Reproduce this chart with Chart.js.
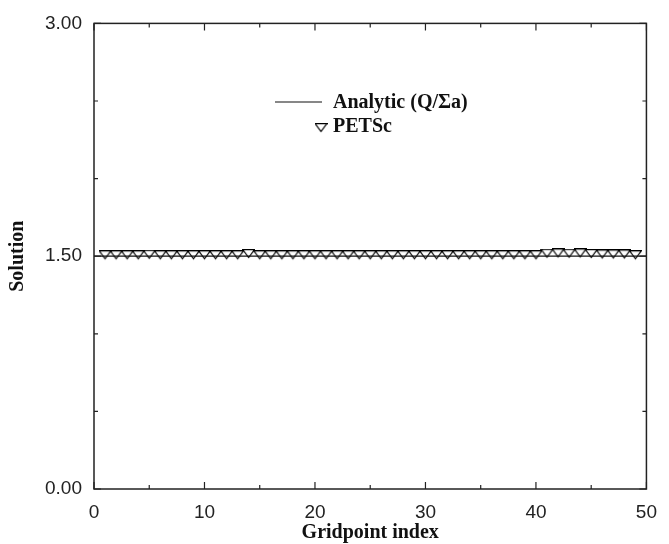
<!DOCTYPE html>
<html>
<head>
<meta charset="utf-8">
<script src="https://cdn.jsdelivr.net/npm/chart.js@4"></script>
<style>
  body { margin: 0; background: #fff; }
  #caixa { width: 669px; height: 544px; }
</style>
</head>
<body>
<div id="caixa"><canvas id="grafico" width="669" height="544"></canvas></div>
<script>
// dados
var gridpoints = [1, 2, 3, 4, 5, 6, 7, 8, 9, 10, 11, 12, 13, 14, 15, 16, 17, 18, 19, 20,
    21, 22, 23, 24, 25, 26, 27, 28, 29, 30, 31, 32, 33, 34, 35, 36, 37, 38, 39, 40,
    41, 42, 43, 44, 45, 46, 47, 48, 49];
var valoresPetsc = [1.5, 1.5, 1.5, 1.5, 1.503, 1.5, 1.5, 1.5, 1.5, 1.5, 1.5, 1.5, 1.5, 1.508, 1.5, 1.5, 1.5, 1.5, 1.5, 1.5,
    1.5, 1.5, 1.5, 1.5, 1.5, 1.5, 1.5, 1.5, 1.5, 1.5, 1.5, 1.5, 1.5, 1.5, 1.5, 1.5, 1.5, 1.5, 1.5, 1.5,
    1.51, 1.512, 1.51, 1.512, 1.508, 1.505, 1.505, 1.505, 1.5];
var analiticoX = [0, 50];
var analiticoY = [1.5, 1.5];

var xTicks = [0, 10, 20, 30, 40, 50];
var xMinor = [5, 15, 25, 35, 45];
var yTicks = [0, 1.5, 3];
var yMinor = [0.5, 1, 2, 2.5];

var fonteNumeros = "'Liberation Sans', Arial, sans-serif";
var fonteTitulo = "'Liberation Serif', 'Times New Roman', serif";

// marcador: triangulo para baixo, vazado (ancorado um pouco abaixo do centro)
function criarTriangulo() {
    var c = document.createElement('canvas');
    c.width = 13;
    c.height = 12;
    var g = c.getContext('2d');
    g.strokeStyle = '#000';
    g.lineWidth = 1.2;
    g.beginPath();
    g.moveTo(0.6, 0.6);
    g.lineTo(12.4, 0.6);
    g.lineTo(6.5, 8.6);
    g.closePath();
    g.stroke();
    return c;
}
var triangulo = criarTriangulo();

// moldura com marcas para dentro nos quatro lados
var moldura = {
    id: 'moldura',
    afterDatasetsDraw(chart) {
        var ctx = chart.ctx;
        var area = chart.chartArea;
        var sx = chart.scales.x;
        var sy = chart.scales.y;
        ctx.save();
        ctx.strokeStyle = '#222';
        ctx.lineWidth = 1.5;
        ctx.strokeRect(area.left, area.top, area.right - area.left, area.bottom - area.top);
        ctx.lineWidth = 1.2;
        ctx.beginPath();
        function marcaX(v, len) {
            var px = sx.getPixelForValue(v);
            ctx.moveTo(px, area.bottom);
            ctx.lineTo(px, area.bottom - len);
            ctx.moveTo(px, area.top);
            ctx.lineTo(px, area.top + len);
        }
        function marcaY(v, len) {
            var py = sy.getPixelForValue(v);
            ctx.moveTo(area.left, py);
            ctx.lineTo(area.left + len, py);
            ctx.moveTo(area.right, py);
            ctx.lineTo(area.right - len, py);
        }
        xTicks.forEach(function (v) { marcaX(v, 7); });
        xMinor.forEach(function (v) { marcaX(v, 4); });
        yTicks.forEach(function (v) { marcaY(v, 7); });
        yMinor.forEach(function (v) { marcaY(v, 4); });
        ctx.stroke();
        ctx.restore();
    },
    afterDraw(chart) {
        // legenda desenhada dentro do grafico
        var ctx = chart.ctx;
        ctx.save();
        ctx.strokeStyle = '#111';
        ctx.lineWidth = 1.2;
        ctx.beginPath();
        ctx.moveTo(275, 102);
        ctx.lineTo(322, 102);
        ctx.stroke();
        ctx.drawImage(triangulo, 321 - 6.5, 129 - 6);
        ctx.fillStyle = '#111';
        ctx.font = 'bold 20px ' + fonteTitulo;
        ctx.textBaseline = 'middle';
        ctx.textAlign = 'left';
        ctx.fillText('Analytic (Q/\u03A3a)', 333, 103);
        ctx.fillText('PETSc', 333, 127);
        ctx.restore();
    }
};

var pontosPetsc = gridpoints.map(function (x, i) { return { x: x, y: valoresPetsc[i] }; });
var pontosAnalitico = analiticoX.map(function (x, i) { return { x: x, y: analiticoY[i] }; });

new Chart(document.getElementById('grafico'), {
    type: 'scatter',
    data: {
        datasets: [{
            label: 'Analytic (Q/\u03A3a)',
            type: 'line',
            data: pontosAnalitico,
            borderColor: '#111',
            borderWidth: 1.2,
            pointRadius: 0,
            fill: false
        }, {
            label: 'PETSc',
            data: pontosPetsc,
            pointStyle: triangulo,
            pointRadius: 6
        }]
    },
    options: {
        responsive: false,
        animation: false,
        layout: { padding: { top: 19, right: 12, left: 0, bottom: 0 } },
        plugins: { legend: { display: false }, tooltip: { enabled: false } },
        scales: {
            x: {
                type: 'linear',
                min: 0,
                max: 50,
                afterBuildTicks: function (scale) { scale.ticks = xTicks.map(function (v) { return { value: v }; }); },
                afterFit: function (scale) { scale.height = 55; },
                grid: { display: false, drawTicks: false },
                border: { display: false },
                ticks: { color: '#222', padding: 12, font: { family: fonteNumeros, size: 19 }, maxRotation: 0 },
                title: { display: true, text: 'Gridpoint index', color: '#111', padding: { top: 0, bottom: -1 }, font: { family: fonteTitulo, size: 20, weight: 'bold' } }
            },
            y: {
                type: 'linear',
                min: 0,
                max: 3,
                afterBuildTicks: function (scale) { scale.ticks = yTicks.map(function (v) { return { value: v }; }); },
                afterFit: function (scale) { scale.width = 94; },
                grid: { display: false, drawTicks: false },
                border: { display: false },
                ticks: { color: '#222', padding: 12, font: { family: fonteNumeros, size: 19 }, callback: function (v) { return Number(v).toFixed(2); } },
                title: { display: true, text: 'Solution', color: '#111', padding: { top: 6, bottom: 0 }, font: { family: fonteTitulo, size: 20, weight: 'bold' } }
            }
        }
    },
    plugins: [moldura]
});
</script>
</body>
</html>
